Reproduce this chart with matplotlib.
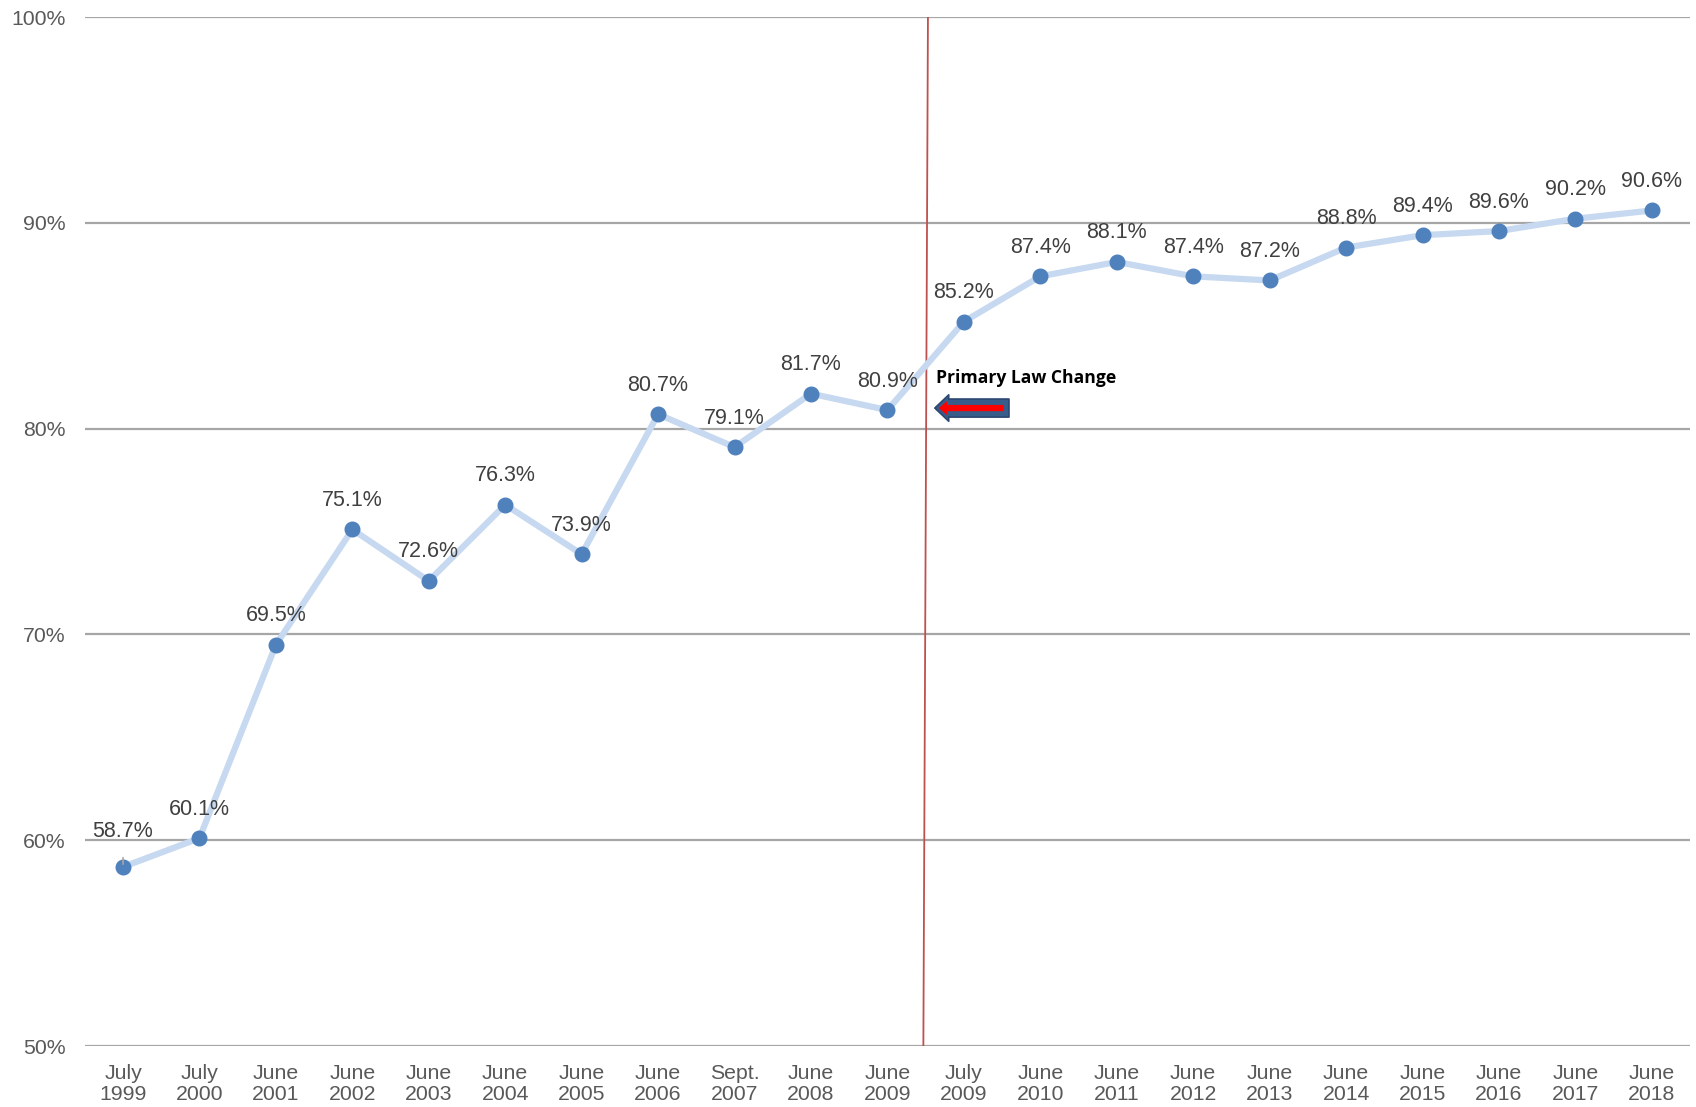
import matplotlib
matplotlib.use("Agg")
import matplotlib.pyplot as plt

categories = ["July\n1999", "July\n2000", "June\n2001", "June\n2002", "June\n2003", "June\n2004",
              "June\n2005", "June\n2006", "Sept.\n2007", "June\n2008", "June\n2009", "July\n2009",
              "June\n2010", "June\n2011", "June\n2012", "June\n2013", "June\n2014", "June\n2015",
              "June\n2016", "June\n2017", "June\n2018"]
values = [58.7, 60.1, 69.5, 75.1, 72.6, 76.3, 73.9, 80.7, 79.1, 81.7, 80.9, 85.2,
          87.4, 88.1, 87.4, 87.2, 88.8, 89.4, 89.6, 90.2, 90.6]
yticks = [50, 60, 70, 80, 90, 100]
annotation_text = "Primary Law Change"

plt.rcParams['font.family'] = ['Liberation Sans', 'DejaVu Sans']

fig = plt.figure(figsize=(16.96, 11.07), dpi=100)
ax = fig.add_axes([0.050, 0.0551, 0.9465, 0.9295])

x = list(range(len(values)))
ax.plot(x, values, color='#C6D9F0', lw=4.5, zorder=3, solid_capstyle='round')
ax.plot(x, values, 'o', color='#4F81BD', ms=10.5, zorder=4)

for i, v in enumerate(values):
    if i == 0:
        ax.annotate(f"{v:.1f}%", (i, v), xytext=(0, 35), textcoords='offset pixels',
                    ha='center', va='center', fontsize=15.5, color='#404040', zorder=5,
                    arrowprops=dict(arrowstyle='-', color='#A6A6A6', lw=1.2,
                                    shrinkA=9, shrinkB=2))
    else:
        ax.annotate(f"{v:.1f}%", (i, v), xytext=(0, 29), textcoords='offset pixels',
                    ha='center', va='center', fontsize=15.5, color='#404040', zorder=5)

ax.set_xlim(-0.5, len(values) - 0.5)
ax.set_ylim(50, 100)
ax.set_yticks(yticks)
ax.set_yticklabels([f"{t}%" for t in yticks])
ax.set_xticks(x)
ax.set_xticklabels(categories, linespacing=1.15)
ax.tick_params(axis='both', length=0, labelsize=15.3, labelcolor='#595959')
ax.tick_params(axis='y', pad=14)
ax.tick_params(axis='x', pad=13)
for s in ax.spines.values():
    s.set_visible(False)
ax.grid(axis='y', color='#A6A6A6', lw=1.6, zorder=1)
ax.set_axisbelow(True)

# vertical red line
ax.plot([10.47, 10.53], [50, 100], color='#C0504D', lw=1.3, zorder=2)

# arrow
ax.annotate("", xy=(10.62, 81.0), xytext=(11.59, 81.0),
            arrowprops=dict(arrowstyle='simple,head_length=10,head_width=19,tail_width=13',
                            mutation_scale=1, fc='#385D8A', ec='#2C4770', lw=1.2,
                            shrinkA=0, shrinkB=0), zorder=6)
ax.annotate("", xy=(10.67, 81.0), xytext=(11.52, 81.0),
            arrowprops=dict(arrowstyle='simple,head_length=6,head_width=10,tail_width=4.5',
                            mutation_scale=1, fc='#FF0000', ec='#FF0000', lw=0,
                            shrinkA=0, shrinkB=0), zorder=7)
ax.text(10.64, 82.45, annotation_text, fontsize=12.6, fontweight='bold', color='black',
        family=['Open Sans', 'DejaVu Sans'], ha='left', va='center', zorder=7)

fig.savefig("out.png", dpi=100)
